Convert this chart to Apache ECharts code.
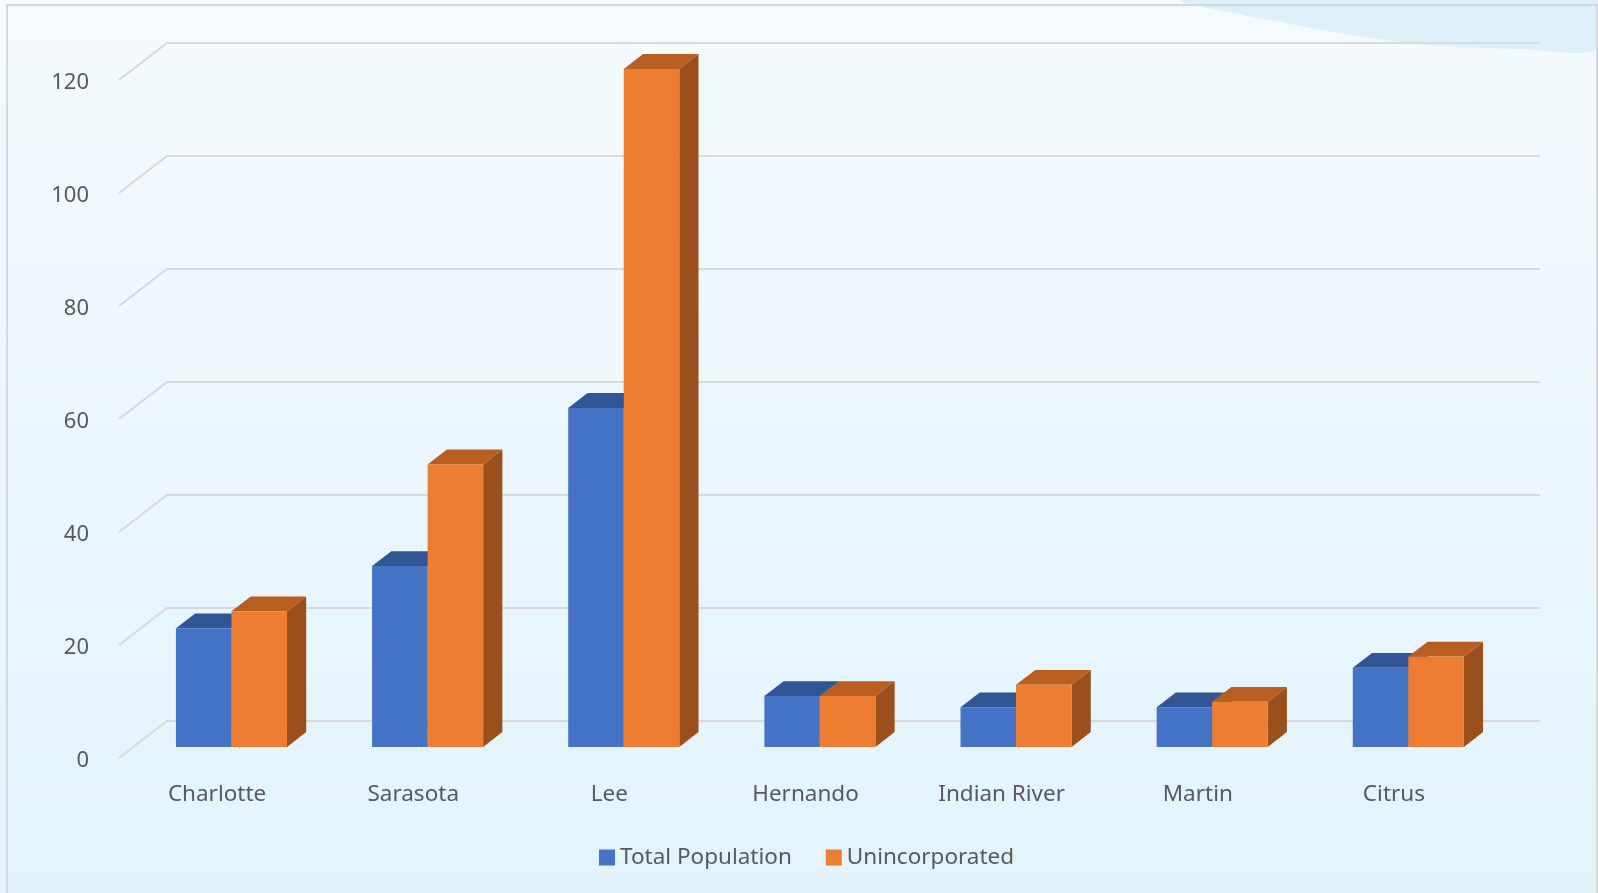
<!DOCTYPE html>
<html>
<head>
<meta charset="utf-8">
<script src="https://cdn.jsdelivr.net/npm/echarts@6/dist/echarts.min.js"></script>
<style>
  html, body { margin: 0; padding: 0; background: #fff; }
  #chart { width: 1598px; height: 893px; }
</style>
</head>
<body>
<div id="chart"></div>
<script>
const counties = ['Charlotte', 'Sarasota', 'Lee', 'Hernando', 'Indian River', 'Martin', 'Citrus']
const totalPopulation = [21, 32, 60, 9, 7, 7, 14]
const unincorporated = [24, 50, 120, 9, 11, 8, 16]
const yTicks = [0, 20, 40, 60, 80, 100, 120]

// oblique 3d look: full depth of the floor and where the bars sit in it
const DEPTH_X = 48
const DEPTH_Y = -37
const BAR_FRONT = 0.3
const BAR_BACK = 0.7
const BAR_RATIO = 55.5 / 196 // bar width vs category band (gap 150%)

const faces = {
  blue: { front: '#4472C4', top: '#325596', side: '#2A4A84' },
  orange: { front: '#ED7D31', top: '#B85E21', side: '#9A4F1D' }
}

const chart = echarts.init(document.getElementById('chart'))

function barItem(offsetSign, colors) {
  return function (params, api) {
    const idx = api.value(0)
    const top = api.coord([idx, api.value(1)])
    const base = api.coord([idx, 0])
    const band = api.size([1, 0])[0]
    const w = band * BAR_RATIO
    const fx = BAR_FRONT * DEPTH_X
    const fy = BAR_FRONT * DEPTH_Y
    const dx = (BAR_BACK - BAR_FRONT) * DEPTH_X
    const dy = (BAR_BACK - BAR_FRONT) * DEPTH_Y
    const x0 = base[0] + fx + (offsetSign < 0 ? -w : 0)
    const x1 = x0 + w
    const yb = base[1] + fy
    const yt = top[1] + fy
    return {
      type: 'group',
      children: [
        {
          type: 'polygon',
          shape: { points: [[x1, yb], [x1 + dx, yb + dy], [x1 + dx, yt + dy], [x1, yt]] },
          style: { fill: colors.side }
        },
        {
          type: 'polygon',
          shape: { points: [[x0, yt], [x0 + dx, yt + dy], [x1 + dx, yt + dy], [x1, yt]] },
          style: { fill: colors.top }
        },
        {
          type: 'rect',
          shape: { x: x0, y: yt, width: w, height: yb - yt },
          style: { fill: colors.front }
        }
      ]
    }
  }
}

// back wall gridlines with the short diagonal on the left wall
function gridItem(params, api) {
  const cs = params.coordSys
  const y = api.coord([0, api.value(1)])[1]
  return {
    type: 'polyline',
    shape: {
      points: [
        [cs.x, y],
        [cs.x + DEPTH_X, y + DEPTH_Y],
        [cs.x + cs.width + DEPTH_X, y + DEPTH_Y]
      ]
    },
    style: { stroke: '#D9D9D9', lineWidth: 2, fill: null }
  }
}

const option = {
  backgroundColor: 'transparent',
  animation: false,
  graphic: [
    {
      type: 'rect',
      z: -10,
      shape: { x: 0, y: 0, width: 1598, height: 893 },
      style: {
        fill: new echarts.graphic.LinearGradient(0, 0, 0, 1, [
          { offset: 0, color: '#F4FAFE' },
          { offset: 1, color: '#E2F3FB' }
        ])
      }
    },
    {
      type: 'polygon',
      z: -9,
      shape: {
        points: [[1183, 0], [1280, 22], [1370, 38], [1440, 46], [1520, 49], [1598, 49], [1598, 0]],
        smooth: 0.3
      },
      style: { fill: '#DDEFF9' }
    },
    {
      type: 'rect',
      z: -8,
      shape: { x: 7, y: 5, width: 1590, height: 900 },
      style: { fill: null, stroke: '#D4D8DB', lineWidth: 2 }
    }
  ],
  legend: {
    left: 594,
    top: 841,
    itemWidth: 16,
    itemHeight: 16,
    itemGap: 34,
    icon: 'rect',
    textStyle: { color: '#595959', fontSize: 22.5, fontFamily: 'Noto Sans' },
    data: ['Total Population', 'Unincorporated']
  },
  grid: { left: 119, right: 106, top: 80, bottom: 135 },
  xAxis: {
    type: 'category',
    data: counties,
    axisLine: { show: false },
    axisTick: { show: false },
    axisLabel: { color: '#595959', fontSize: 22.5, fontFamily: 'Noto Sans', margin: 25 },
    splitLine: { show: false }
  },
  yAxis: {
    type: 'value',
    min: 0,
    max: 120,
    interval: 20,
    axisLine: { show: false },
    axisTick: { show: false },
    splitLine: { show: false },
    axisLabel: {
      color: '#595959',
      fontSize: 22,
      fontFamily: 'Noto Sans',
      margin: 30,
      verticalAlign: 'top',
      lineHeight: 6
    }
  },
  series: [
    {
      type: 'custom',
      name: 'grid',
      silent: true,
      z: 1,
      renderItem: gridItem,
      data: yTicks.map(v => [0, v])
    },
    {
      type: 'custom',
      name: 'Total Population',
      z: 2,
      itemStyle: { color: faces.blue.front },
      renderItem: barItem(-1, faces.blue),
      encode: { x: 0, y: 1 },
      data: totalPopulation.map((v, i) => [i, v])
    },
    {
      type: 'custom',
      name: 'Unincorporated',
      z: 3,
      itemStyle: { color: faces.orange.front },
      renderItem: barItem(1, faces.orange),
      encode: { x: 0, y: 1 },
      data: unincorporated.map((v, i) => [i, v])
    }
  ]
}

chart.setOption(option)
</script>
</body>
</html>
